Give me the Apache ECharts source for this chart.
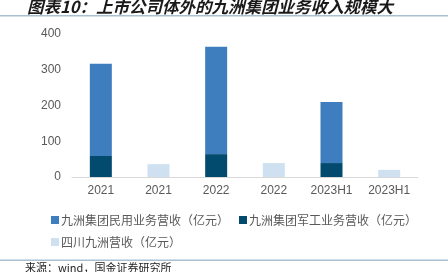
<!DOCTYPE html>
<html><head><meta charset="utf-8">
<script src="https://cdn.jsdelivr.net/npm/echarts@6/dist/echarts.min.js"></script>
<style>html,body{margin:0;padding:0;background:#fff}#c{width:448px;height:272px}</style>
</head><body><div id="c"></div>
<script>
const categories = ['2021','2021','2022','2022','2023H1','2023H1'];
const civil = [258, null, 300, null, 171, null];
const military = [59, null, 64, null, 39, null];
const sichuan = [null, 36, null, 39, null, 20];
const yTicks = [0, 100, 200, 300, 400];
const names = ['九洲集团民用业务营收（亿元）','九洲集团军工业务营收（亿元）','四川九洲营收（亿元）'];
const titleText = '图表10：上市公司体外的九洲集团业务收入规模大';
const sourceText = '来源：wind，国金证券研究所';

const chart = echarts.init(document.getElementById('c'));
chart.setOption({
  animation: false,
  grid: {left: 72, right: 30, top: 34, bottom: 95},
  graphic: [
    {type: 'text', x: 27, y: -2, style: {text: titleText, font: 'italic bold 16.5px "Noto Sans CJK SC"', fill: '#1a1a1a', verticalAlign: 'top'}},
    {type: 'rect', shape: {x: 0, y: 15, width: 448, height: 1.5}, style: {fill: '#A8C0D0'}},
    {type: 'rect', shape: {x: 0, y: 259.5, width: 448, height: 1.5}, style: {fill: '#A8C0D0'}},
    {type: 'text', x: 25, y: 262, style: {text: sourceText, font: '11px "Noto Sans CJK SC"', fill: '#222', verticalAlign: 'top'}}
  ],
  legend: {
    left: 46, top: 209, width: 390, itemWidth: 8, itemHeight: 8, itemGap: 10,
    icon: 'rect',
    textStyle: {fontSize: 12, color: '#595959', fontFamily: '"Noto Sans CJK SC"', padding: [0,0,0,-3]},
    data: [names[0], names[1], names[2]]
  },
  xAxis: {
    type: 'category', data: categories,
    axisLine: {lineStyle: {color: '#D9D9D9', width: 1}},
    axisTick: {inside: true, length: 3, lineStyle: {color: '#D9D9D9'}},
    axisLabel: {color: '#595959', fontSize: 12, margin: 8, fontFamily: 'Liberation Sans'}
  },
  yAxis: {
    type: 'value', min: 0, max: 400, interval: 100,
    splitLine: {show: false},
    axisLine: {show: false}, axisTick: {show: false},
    axisLabel: {color: '#595959', fontSize: 12, margin: 11, fontFamily: 'Liberation Sans'}
  },
  series: [
    {name: names[1], type: 'bar', stack: 'a', data: military, barWidth: 22, itemStyle: {color: '#034A6F'}},
    {name: names[0], type: 'bar', stack: 'a', data: civil, barWidth: 22, itemStyle: {color: '#3F7EBE'}},
    {name: names[2], type: 'bar', stack: 'a', data: sichuan, barWidth: 22, itemStyle: {color: '#CFE1F1'}}
  ]
});
</script></body></html>
